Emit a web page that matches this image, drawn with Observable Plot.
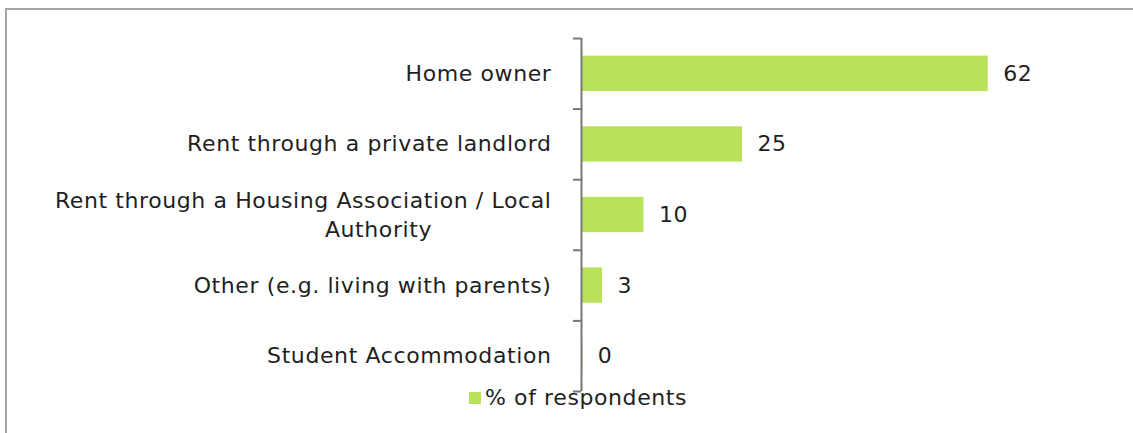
<!DOCTYPE html>
<html>
<head>
<meta charset="utf-8">
<script src="https://cdn.jsdelivr.net/npm/d3@7"></script>
<script src="https://cdn.jsdelivr.net/npm/@observablehq/plot@0.6"></script>
<style>
  html, body { margin: 0; padding: 0; background: #fff; overflow: hidden; }
  #wrap { position: relative; width: 1133px; height: 433px; overflow: hidden; }
  #frame { position: absolute; left: 5px; top: 8px; width: 1200px; height: 500px;
           border-left: 2px solid #a6a6a6; border-top: 2px solid #a6a6a6; }
  #chart { position: absolute; left: 0; top: 0; }
  #legend { position: absolute; left: 469px; top: 385px; display: flex; align-items: center;
            font-family: "DejaVu Sans", sans-serif; font-size: 22px; letter-spacing: 0.6px; color: #1f1f1f; }
  #legend .sw { width: 12px; height: 12px; background: #b9e25a; margin-right: 4px; }
</style>
</head>
<body>
<div id="wrap">
  <div id="frame"></div>
  <div id="chart"></div>
  <div id="legend"><span class="sw"></span><span id="legendText"></span></div>
</div>
<script>
const categories = [
  "Home owner",
  "Rent through a private landlord",
  "Rent through a Housing Association / Local\nAuthority",
  "Other (e.g. living with parents)",
  "Student Accommodation"
];
const values = [61.9, 24.5, 9.5, 3.2, 0.2];
const seriesName = "% of respondents";

const green = "#b9e25a";
const axisGray = "#777777";
const textColor = "#1f1f1f";
const font = "DejaVu Sans, sans-serif";

const rows = categories.map((c, i) => {
  const lines = c.split("\n");
  return { category: c, first: lines[0], rest: lines.slice(1).join("\n"),
           wrapped: lines.length > 1, value: values[i], pos: i };
});
const n = categories.length;

const chart = Plot.plot({
  width: 1133,
  height: 433,
  marginLeft: 581,
  marginRight: 0,
  marginTop: 38,
  marginBottom: 42,
  style: { background: "transparent", fontFamily: font, fontSize: "22px", letterSpacing: "0.6px", color: textColor, overflow: "visible" },
  x: { domain: [0, 84], axis: null },
  y: { type: "linear", domain: [0, n], reverse: true, axis: null },
  marks: [
    Plot.rectX(rows, { x: "value", y1: d => d.pos + 0.25, y2: d => d.pos + 0.75, fill: green, insetLeft: 1 }),
    Plot.ruleX([0], { stroke: axisGray, strokeWidth: 2 }),
    Plot.axisY({ ticks: d3.range(n + 1), tickSize: 8, tickFormat: () => "", stroke: axisGray, strokeWidth: 2 }),
    Plot.text(rows.filter(d => !d.wrapped), {
      y: d => d.pos + 0.5, text: "first", frameAnchor: "left", textAnchor: "end",
      dx: -30, fill: textColor, fontSize: 22
    }),
    Plot.text(rows.filter(d => d.wrapped), {
      y: d => d.pos + 0.5, text: "first", frameAnchor: "left", textAnchor: "end",
      dx: -30, dy: -14.5, fill: textColor, fontSize: 22
    }),
    Plot.text(rows.filter(d => d.wrapped), {
      y: d => d.pos + 0.5, text: "rest", frameAnchor: "left", textAnchor: "middle",
      dx: -203, dy: 14.5, fill: textColor, fontSize: 22
    }),
    Plot.text(rows, {
      x: "value", y: d => d.pos + 0.5, text: d => d3.format(".0f")(d.value),
      textAnchor: "start", dx: 15, fill: textColor, fontSize: 22
    })
  ]
});
document.getElementById("chart").appendChild(chart);
document.getElementById("legendText").textContent = seriesName;
</script>
</body>
</html>
